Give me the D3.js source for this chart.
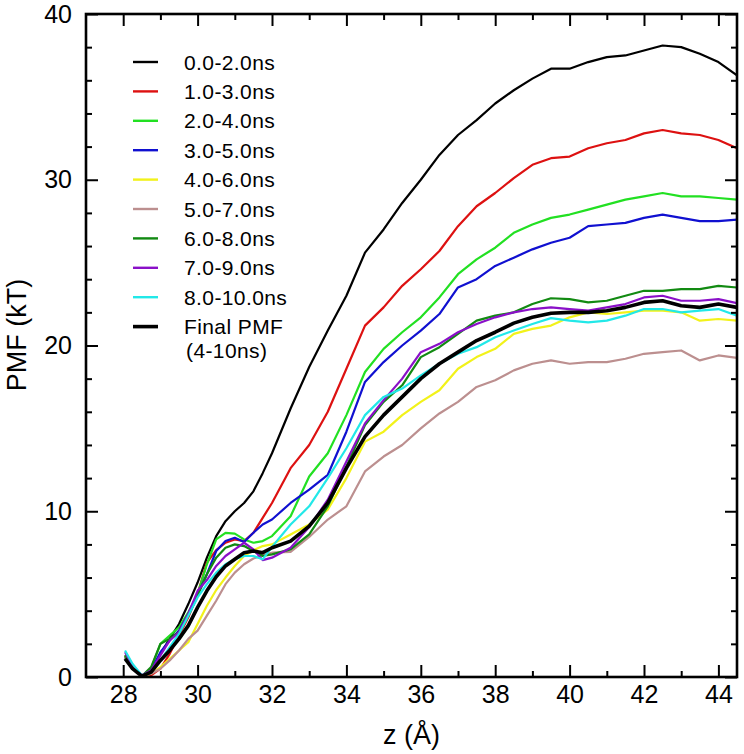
<!DOCTYPE html>
<html><head><meta charset="utf-8">
<script src="https://cdn.jsdelivr.net/npm/d3@7"></script>
<style>
body{margin:0;background:#fff;}
text{font-family:"Liberation Sans",Arial,Helvetica,sans-serif;fill:#000;}
</style></head>
<body><svg id="c" width="744" height="754"></svg>
<script>
// z grid (Å)
const zValues = [28.05,28.25,28.5,28.75,29,29.25,29.5,29.75,30,30.25,30.5,30.75,31,31.25,31.5,31.75,32,32.5,33,33.5,34,34.5,35,35.5,36,36.5,37,37.5,38,38.5,39,39.5,40,40.5,41,41.5,42,42.5,43,43.5,44,44.5];

const pmf_0_2   = [1.2,0.5,0.05,0.4,1.4,2.3,3.2,4.4,5.7,7.2,8.5,9.4,10.0,10.5,11.2,12.3,13.5,16.2,18.7,20.9,23.0,25.6,27.0,28.6,30.0,31.5,32.7,33.6,34.6,35.4,36.1,36.7,36.7,37.1,37.4,37.5,37.8,38.1,38.0,37.6,37.1,36.3];
const pmf_1_3   = [1.3,0.6,0.05,0.1,0.5,1.4,2.5,3.6,5.0,6.9,7.65,8.1,8.3,8.2,8.7,9.6,10.5,12.6,14.0,16.0,18.6,21.2,22.3,23.6,24.6,25.7,27.2,28.4,29.2,30.1,30.9,31.3,31.4,31.9,32.2,32.4,32.8,33.0,32.8,32.7,32.4,31.9];
const pmf_2_4   = [1.3,0.6,0.05,0.5,2.0,2.5,3.0,3.9,5.0,6.8,8.3,8.7,8.65,8.3,8.1,8.2,8.5,9.7,12.1,13.5,15.8,18.4,19.8,20.8,21.7,22.9,24.3,25.2,25.9,26.8,27.3,27.7,27.9,28.2,28.5,28.8,29.0,29.2,29.0,29.0,28.9,28.8];
const pmf_3_5   = [1.3,0.6,0.05,0.4,1.5,2.2,2.8,3.8,5.0,6.2,7.6,8.2,8.4,8.15,8.7,9.2,9.5,10.5,11.3,12.2,14.8,17.8,19.0,20.0,20.9,21.9,23.5,24.0,24.8,25.3,25.8,26.2,26.5,27.2,27.3,27.4,27.7,27.9,27.7,27.5,27.5,27.6];
const pmf_4_6   = [1.3,0.6,0.05,0.2,0.6,1.1,1.6,2.1,3.2,4.3,5.25,6.0,6.7,7.3,7.65,7.9,8.0,8.6,9.2,10.1,12.0,14.2,14.8,15.8,16.6,17.3,18.6,19.3,19.8,20.7,21.0,21.2,21.7,22.0,21.9,22.0,22.1,22.1,22.0,21.5,21.6,21.5];
const pmf_5_7   = [1.3,0.6,0.05,0.2,0.5,1.0,1.6,2.3,2.8,3.7,4.6,5.6,6.3,6.8,7.15,7.35,7.5,7.55,8.45,9.5,10.3,12.4,13.3,14.0,15.0,15.9,16.6,17.5,17.9,18.5,18.9,19.1,18.9,19.0,19.0,19.2,19.5,19.6,19.7,19.1,19.4,19.25];
const pmf_6_8   = [1.3,0.6,0.05,0.6,2.0,2.3,2.7,3.7,4.9,6.2,7.2,7.8,8.0,7.9,7.6,7.3,7.4,7.7,8.6,10.3,12.7,15.2,16.6,17.6,19.3,19.9,20.7,21.5,21.8,22.0,22.5,22.85,22.8,22.6,22.7,23.0,23.3,23.3,23.4,23.4,23.6,23.5];
const pmf_7_9   = [1.5,0.7,0.1,0.4,1.3,2.2,2.7,3.8,5.2,5.85,6.7,7.3,7.7,8.1,7.7,7.05,7.2,7.8,9.05,10.7,13.0,15.3,16.7,18.0,19.6,20.1,20.8,21.3,21.7,22.0,22.2,22.3,22.2,22.1,22.3,22.5,22.9,23.0,22.7,22.7,22.8,22.55];
const pmf_8_10  = [1.6,0.8,0.1,0.3,1.0,1.8,2.6,3.7,4.8,5.6,6.3,6.8,7.1,7.3,7.3,7.1,7.85,9.2,10.3,12.0,13.8,15.8,16.9,17.4,18.2,18.9,19.5,19.9,20.5,20.9,21.3,21.65,21.5,21.4,21.5,21.8,22.2,22.2,22.0,22.1,22.2,21.8];
const pmf_final = [1.1,0.5,0.05,0.3,1.0,1.6,2.3,3.1,4.2,5.2,6.05,6.7,7.1,7.5,7.6,7.5,7.8,8.2,9.1,10.5,12.6,14.5,15.8,16.9,18.0,18.9,19.6,20.3,20.8,21.35,21.7,21.95,22.0,22.0,22.1,22.3,22.6,22.7,22.4,22.3,22.5,22.3];

const seriesNames = ["0.0-2.0ns","1.0-3.0ns","2.0-4.0ns","3.0-5.0ns","4.0-6.0ns","5.0-7.0ns","6.0-8.0ns","7.0-9.0ns","8.0-10.0ns","Final PMF"];
const seriesValues = [pmf_0_2,pmf_1_3,pmf_2_4,pmf_3_5,pmf_4_6,pmf_5_7,pmf_6_8,pmf_7_9,pmf_8_10,pmf_final];
const seriesColors = ["#000000","#dd1111","#22e022","#1010d0","#f2f21a","#bc8f8f","#128a12","#8a10c8","#22e8e8","#000000"];
const xMajorTicks = [28,30,32,34,36,38,40,42,44];
const xMinorTicks = [29,31,33,35,37,39,41,43];
const yMajorTicks = [0,10,20,30,40];
const yMinorTicks = [2,4,6,8,12,14,16,18,22,24,26,28,32,34,36,38];

const L=86, R=737, T=14, B=677;
const svg = d3.select("#c");
const x = d3.scaleLinear().domain([27,44.5]).range([L,R]);
const y = d3.scaleLinear().domain([0,40]).range([B,T]);

svg.append("defs").append("clipPath").attr("id","clip")
  .append("rect").attr("x",L).attr("y",T).attr("width",R-L).attr("height",B-T);

const line = d3.line().x((d,i)=>x(zValues[i])).y(d=>y(d));
const g = svg.append("g").attr("clip-path","url(#clip)");
seriesValues.forEach((vals,k)=>{
  g.append("path").datum(vals).attr("d",line)
   .attr("fill","none").attr("stroke",seriesColors[k])
   .attr("stroke-width", k===9?3.6:2.2).attr("stroke-linejoin","round");
});

function styleAxis(sel){
  sel.select(".domain").remove();
  sel.selectAll(".tick line").attr("stroke","#000").attr("stroke-width",2);
  sel.selectAll("text").style("font-family","'Liberation Sans',Arial,sans-serif").style("font-size","25px").attr("fill","#000");
}
svg.append("g").attr("transform",`translate(0,${B})`)
  .call(d3.axisBottom(x).tickValues(xMajorTicks).tickSize(-12).tickPadding(8).tickFormat(d3.format("d")))
  .call(styleAxis);
svg.append("g").attr("transform",`translate(0,${B})`)
  .call(d3.axisBottom(x).tickValues(xMinorTicks).tickSize(-6).tickFormat(""))
  .call(styleAxis);
svg.append("g").attr("transform",`translate(0,${T})`)
  .call(d3.axisTop(x).tickValues(xMajorTicks).tickSize(-12).tickFormat(""))
  .call(styleAxis);
svg.append("g").attr("transform",`translate(0,${T})`)
  .call(d3.axisTop(x).tickValues(xMinorTicks).tickSize(-6).tickFormat(""))
  .call(styleAxis);
svg.append("g").attr("transform",`translate(${L},0)`)
  .call(d3.axisLeft(y).tickValues(yMajorTicks).tickSize(-12).tickPadding(14).tickFormat(d3.format("d")))
  .call(styleAxis);
svg.append("g").attr("transform",`translate(${L},0)`)
  .call(d3.axisLeft(y).tickValues(yMinorTicks).tickSize(-6).tickFormat(""))
  .call(styleAxis);
svg.append("g").attr("transform",`translate(${R},0)`)
  .call(d3.axisRight(y).tickValues(yMajorTicks).tickSize(-12).tickFormat(""))
  .call(styleAxis);
svg.append("g").attr("transform",`translate(${R},0)`)
  .call(d3.axisRight(y).tickValues(yMinorTicks).tickSize(-6).tickFormat(""))
  .call(styleAxis);

svg.append("rect").attr("x",L).attr("y",T).attr("width",R-L).attr("height",B-T)
  .attr("fill","none").attr("stroke","#000").attr("stroke-width",2.6);

svg.append("text").attr("x",(L+R)/2).attr("y",744).attr("text-anchor","middle")
  .style("font-size","27px").text("z (Å)");
svg.append("text").attr("transform","translate(26,335) rotate(-90)").attr("text-anchor","middle")
  .style("font-size","27px").text("PMF (kT)");

const lg = svg.append("g");
seriesNames.forEach((name,k)=>{
  const cy = 62 + k*29.4;
  lg.append("line").attr("x1",133).attr("x2",158).attr("y1",cy).attr("y2",cy)
    .attr("stroke",seriesColors[k]).attr("stroke-width",k===9?3.6:2.4);
  lg.append("text").attr("x",184).attr("y",cy+7.5).style("font-size","21px").style("letter-spacing","0.4px").text(name);
});
lg.append("text").attr("x",186).attr("y",62+9*29.4+7.5+24).style("font-size","21px").style("letter-spacing","0.4px").text("(4-10ns)");
</script></body></html>
